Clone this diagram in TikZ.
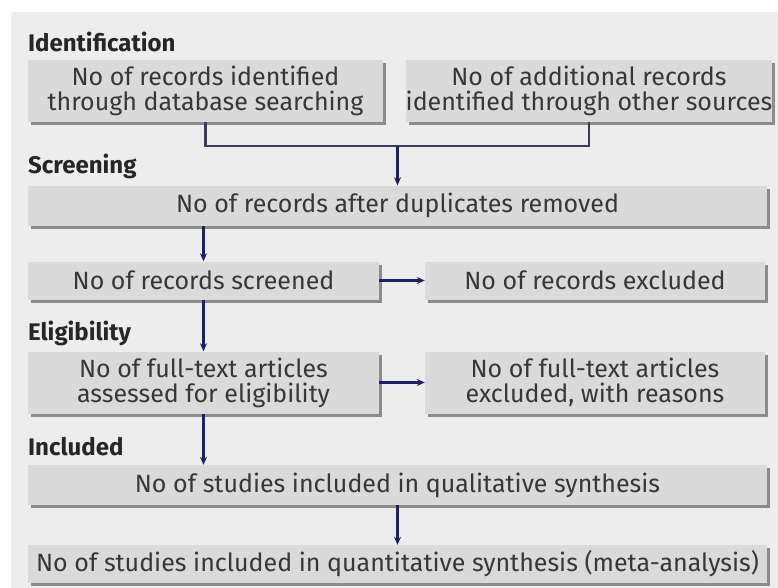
\documentclass[tikz,border=0pt]{standalone}
\usepackage{fontspec}
\setmainfont{Fira Sans}
\usetikzlibrary{shapes,arrows,arrows.meta,positioning,calc,shadows}
\definecolor{pagegray}{RGB}{237,237,237}
\definecolor{boxgray}{RGB}{218,218,218}
\definecolor{shadowgray}{RGB}{140,140,140}
\definecolor{textgray}{RGB}{55,55,55}
\definecolor{flownavy}{RGB}{30,30,105}
\definecolor{joinslate}{RGB}{60,60,90}
\tikzset{
  flowbox/.style={fill=boxgray, inner sep=0pt, align=center, text=textgray,
    font=\fontsize{25}{25}\selectfont,
    drop shadow={shadow xshift=3pt, shadow yshift=-3pt, fill=shadowgray, opacity=1}},
  stage/.style={anchor=west, inner sep=0pt, text=black!85, font=\fontsize{24}{26}\selectfont\bfseries},
  flow/.style={line width=2.2pt, flownavy, -{Stealth[length=8pt,width=7pt]}},
  joinline/.style={line width=2.2pt, joinslate}
}
\begin{document}
\begin{tikzpicture}[x=1pt, y=-1pt]
				\useasboundingbox (0,0) rectangle (778,588);
				% Background
				\fill[white] (0,0) rectangle (778,588);
				\fill[pagegray] (11,12) rectangle (778,588);
				
				% Identification
				\node[stage] (identification) at (28,42) {Identification};
				\node[flowbox, minimum width=355pt, minimum height=62pt] (database) at (205.5,91) {No of records identified\\through database searching};
				\node[flowbox, minimum width=353pt, minimum height=62pt] (othersrc) at (589,91) {No of additional records\\identified through other sources};
				
				% Screening
				\node[stage] (screening) at (28,166) {Screening};
				\node[flowbox, minimum width=739pt, minimum height=40pt] (dupes) at (397.5,205.5) {No of records after duplicates removed};
				\node[flowbox, minimum width=351pt, minimum height=38pt] (screened) at (203.5,280.5) {No of records screened};
				\node[flowbox, minimum width=340pt, minimum height=38pt] (excluded) at (595,280.5) {No of records excluded};
				
				% Eligibility
				\node[stage] (eligibility) at (28,333) {Eligibility};
				\node[flowbox, minimum width=351pt, minimum height=62pt] (fulltext) at (203.5,382.5) {No of full-text articles\\assessed for eligibility};
				\node[flowbox, minimum width=340pt, minimum height=62pt] (ftexcluded) at (595,382.5) {No of full-text articles\\excluded, with reasons};
				
				% Included
				\node[stage] (included) at (28,447) {Included};
				\node[flowbox, minimum width=739pt, minimum height=40pt] (qualitative) at (397.5,485) {No of studies included in qualitative synthesis};
				\node[flowbox, minimum width=739pt, minimum height=38pt] (quantitative) at (397.5,564) {No of studies included in quantitative synthesis (meta-analysis)};
				
				% Joining the two sources
				\coordinate (join) at (397.5,146);
				\draw[joinline] (database.south) |- (join) -| (othersrc.south);
				\draw[flow] (join) -- (dupes.north);
				
				% Down the flow
				\draw[flow] (dupes.south -| screened.north) -- (screened.north);
				\draw[flow] (screened.east) -- (excluded.west);
				\draw[flow] (screened.south) -- (fulltext.north);
				\draw[flow] (fulltext.east) -- (ftexcluded.west);
				\draw[flow] (fulltext.south) -- (qualitative.north -| fulltext.south);
				\draw[flow] (qualitative.south) -- (quantitative.north);
			\end{tikzpicture}
\end{document}
